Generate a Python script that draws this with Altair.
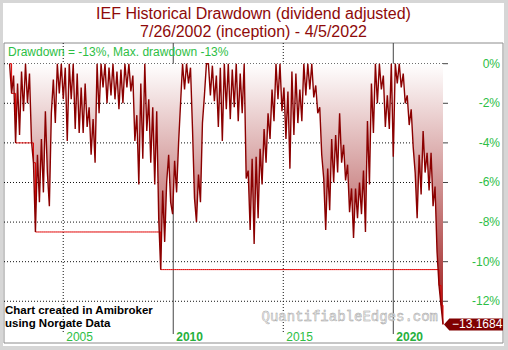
import altair as alt
import pandas as pd

# ---- data -------------------------------------------------------------
TITLE_1 = "IEF Historical Drawdown (dividend adjusted)"
TITLE_2 = "7/26/2002 (inception) - 4/5/2022"
START, END = "2002-07-26", "2022-04-05"

# drawdown from the running peak (%), upper / lower swings in time order
drawdown = [
    0.0, -1.5, -0.6, -4.0, -1.0, -3.6, -0.4, -2.4, 0.0, -2.0,
    -0.5, -3.9, -5.0, -8.5, -4.6, -7.0, -3.8, -6.5, -2.4, -5.5,
    -7.2, -2.5, -0.8, -3.0, 0.0, -1.5, 0.0, -1.8, -0.2, -3.9,
    0.0, -1.8, 0.0, -3.3, -0.5, -3.5,
    -1.2, -3.5, -1.0, -3.2, -2.2, -4.6, -2.8, -5.0, 0.0, -2.5,
    0.0, -1.2, 0.0, -2.0, -0.2, -1.6, 0.0, -1.8, -0.4, -2.3,
    -0.3, -2.0, 0.0, -1.2, 0.0, -1.4, -0.6, -3.9, -2.6, -6.1,
    -1.0, -4.8, 0.0, -3.4, -1.8, -5.0, -2.2, -6.1,
    -2.4, -7.8, -10.4, -6.4, -9.0, -6.0, -4.6, -7.0, -7.6, -4.9,
    -6.5, -4.0, -2.0, 0.0, -1.3, 0.0, -1.0, -0.2, -3.3, -6.8,
    -8.0, -5.6, -7.0, -3.0, -1.6, 0.0, 0.0, -1.6, -0.1, -1.9,
    -0.6, -3.2, -0.2, -3.9, 0.0, -2.3,
    0.0, -2.8, -0.3, -2.2, 0.0, -2.9, -0.5, -2.5, 0.0, -5.8,
    -5.4, -8.4, -4.8, -9.1, -4.7, -7.8, -4.3, -6.1, -3.3, -5.0,
    -2.5, -3.8, -1.3, -2.9, 0.0, -1.8, 0.0, -2.4, -1.2, -3.8,
    -1.4, -5.3, -0.4, -3.6, -0.5, -3.0,
    -1.3, -2.9, 0.0, -1.6, 0.0, -1.3, 0.0, -1.7, -1.1, -2.5,
    -2.2, -4.6, -5.8, -8.4, -5.3, -7.4, -3.8, -6.0, -3.6, -5.5,
    -2.5, -5.0, -4.1, -5.9, -5.1, -7.5, -6.3, -8.8, -6.3, -7.8,
    -6.0, -7.6, -5.4, -8.5, -2.9, -6.1, -1.0, -3.5,
    0.0, -2.0, 0.0, -1.3, -0.6, -3.2, -1.6, -3.3, 0.0, -4.7,
    0.0, -1.0, 0.0, -1.2, -0.5, -2.0, -1.6, -3.1, -2.3, -4.2,
    -5.5, -7.8, -4.6, -6.6, -3.4, -5.5, -4.5, -6.4, -4.5, -7.2,
    -6.2, -9.5, -11.2, -12.2, -13.1684,
]

y_ticks = [0, -2, -4, -6, -8, -10, -12]
dotted_years = [2005, 2015]   # light labels, dotted separators
solid_years = [2010, 2020]    # bold labels, solid separators

df = pd.DataFrame({
    "date": pd.date_range(START, END, periods=len(drawdown)),
    "dd": drawdown,
})
df["maxdd"] = df["dd"].cummin()
last = df.tail(1)

ticks_df = pd.DataFrame({"v": y_ticks})
ticks_df["label"] = [f"{v}%" for v in y_ticks]


def year_frame(years):
    return pd.DataFrame({
        "d": pd.to_datetime([f"{y}-01-01" for y in years]),
        "label": [str(y) for y in years],
    })


dotted_df = year_frame(dotted_years)
solid_df = year_frame(solid_years)

# ---- styling ----------------------------------------------------------
FONT = "Liberation Sans"
GREEN = "#2dbe45"
DARK_RED = "#8b0000"
W, H = 439, 286

x_scale = alt.Scale(
    domain=[alt.DateTime(year=2002, month=4, date=24),
            alt.DateTime(year=2022, month=4, date=5)],
    nice=False,
)
y_scale = alt.Scale(domain=[-13.40, 1.045], nice=False, zero=False)

X_DATE = alt.X("date:T", scale=x_scale, axis=None)
X_YEAR = alt.X("d:T", scale=x_scale, axis=None)

one = pd.DataFrame({"k": [0]})

# page panel and outer frame
panel = alt.Chart(one).mark_rect(color="white").encode(
    x=alt.value(-1), x2=alt.value(500), y=alt.value(-40), y2=alt.value(303)
)
frame = alt.Chart(one).mark_rect(fillOpacity=0, stroke="#8c8c8c", strokeWidth=1).encode(
    x=alt.value(0), x2=alt.value(499), y=alt.value(0), y2=alt.value(300)
)

# grid
hgrid = alt.Chart(ticks_df).mark_rule(
    color="#111111", strokeDash=[1, 2], strokeWidth=1
).encode(y=alt.Y("v:Q", scale=y_scale, axis=None))

vdots = alt.Chart(dotted_df).mark_rule(
    color="#111111", strokeDash=[1, 2], strokeWidth=1
).encode(x=X_YEAR, y=alt.value(0), y2=alt.value(H + 5))

vsolid = alt.Chart(solid_df).mark_rule(color="#444444", strokeWidth=1).encode(
    x=X_YEAR, y=alt.value(0), y2=alt.value(H + 5)
)

base = alt.Chart(df)

fill = alt.Gradient(
    gradient="linear",
    stops=[alt.GradientStop(color="#ffffff", offset=0),
           alt.GradientStop(color="#991313", offset=1)],
    x1=0, x2=0, y1=0, y2=1,
)

area = base.mark_area(fill=fill, strokeWidth=0).encode(
    x=X_DATE,
    y=alt.Y("dd:Q", scale=y_scale, axis=None),
    y2=alt.datum(0),
)

maxdd_line = base.mark_line(color="#e00000", strokeWidth=1, interpolate="step-after").encode(
    x=X_DATE, y=alt.Y("maxdd:Q", scale=y_scale, axis=None)
)

dd_line = base.mark_line(color=DARK_RED, strokeWidth=1.4).encode(
    x=X_DATE, y=alt.Y("dd:Q", scale=y_scale, axis=None)
)

# right-hand value axis
y_tick_marks = alt.Chart(ticks_df).mark_rule(color="#444444").encode(
    y=alt.Y("v:Q", scale=y_scale, axis=None), x=alt.value(W), x2=alt.value(W + 5)
)
y_labels = alt.Chart(ticks_df).mark_text(
    align="right", baseline="middle", font=FONT, fontSize=12, color=GREEN
).encode(y=alt.Y("v:Q", scale=y_scale, axis=None), x=alt.value(496), text="label:N")

# bottom year axis
x_labels_light = alt.Chart(dotted_df).mark_text(
    align="left", baseline="middle", dx=3, font=FONT, fontSize=12, color=GREEN
).encode(x=X_YEAR, y=alt.value(H + 7.5), text="label:N")
x_labels_bold = alt.Chart(solid_df).mark_text(
    align="left", baseline="middle", dx=3, font=FONT, fontSize=12, fontWeight="bold", color="#25b03c"
).encode(x=X_YEAR, y=alt.value(H + 7.5), text="label:N")

# last-value marker on the right axis
tag_shape = "M-1,0L-0.82,-0.204L1,-0.204L1,0.204L-0.82,0.204Z"
tag = alt.Chart(last).mark_point(
    shape=tag_shape, size=3481, filled=True, color="#800000", opacity=1, strokeWidth=0
).encode(x=alt.value(469.5), y=alt.Y("dd:Q", scale=y_scale, axis=None))
tag_text = alt.Chart(last).mark_text(
    align="left", baseline="middle", color="white", font=FONT, fontSize=12
).encode(
    x=alt.value(448),
    y=alt.Y("dd:Q", scale=y_scale, axis=None),
    text=alt.Text("dd:Q", format=".4f"),
)

# texts
title1 = alt.Chart(one).mark_text(
    text=TITLE_1, align="center", baseline="alphabetic", font=FONT, fontSize=16, color="#8e0a0a"
).encode(x=alt.value(249.5), y=alt.value(-24))
title2 = alt.Chart(one).mark_text(
    text=TITLE_2, align="center", baseline="alphabetic", font=FONT, fontSize=16, color="#8e0a0a"
).encode(x=alt.value(249.5), y=alt.value(-6))

status = alt.Chart(one).mark_text(
    text="Drawdown = -13%, Max. drawdown -13%", align="left", baseline="alphabetic",
    font=FONT, fontSize=12, color=GREEN
).encode(x=alt.value(4), y=alt.value(13))

credit1 = alt.Chart(one).mark_text(
    text="Chart created in Amibroker", align="left", baseline="alphabetic",
    font=FONT, fontSize=11.5, fontWeight="bold", color="#000000"
).encode(x=alt.value(1), y=alt.value(271))
credit2 = alt.Chart(one).mark_text(
    text="using Norgate Data", align="left", baseline="alphabetic",
    font=FONT, fontSize=11.5, fontWeight="bold", color="#000000"
).encode(x=alt.value(1), y=alt.value(284))

watermark = alt.Chart(one).mark_text(
    text="QuantifiableEdges.com", align="right", baseline="alphabetic",
    font="Liberation Mono", fontSize=14, color="#f0f0f0", stroke="#a0a0a0", strokeWidth=0.45
).encode(x=alt.value(434), y=alt.value(277.5))

chart = alt.layer(
    panel, frame, hgrid, vdots, vsolid, area, maxdd_line, dd_line,
    y_tick_marks, y_labels, x_labels_light, x_labels_bold,
    credit1, credit2, watermark, status, title1, title2, tag, tag_text,
).properties(
    width=W, height=H,
    padding={"left": 4, "top": 43, "right": 65, "bottom": 21},
    autosize=alt.AutoSizeParams(type="none"),
    background="#d6d6d6",
).configure_view(stroke="#7a7a7a", strokeWidth=1)

chart.save("out.html", embed_options={"renderer": "svg", "actions": False})
